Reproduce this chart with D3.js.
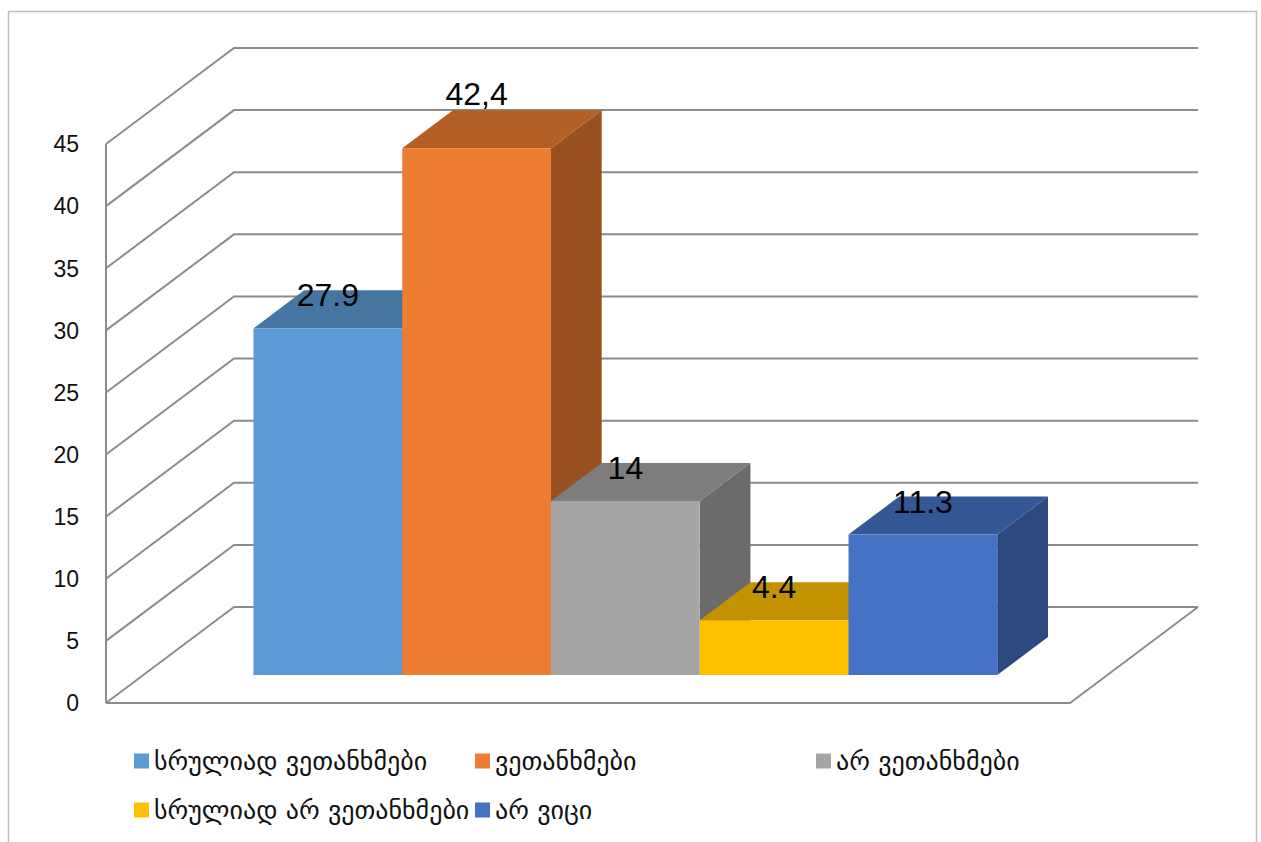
<!DOCTYPE html>
<html>
<head>
<meta charset="utf-8">
<script src="https://cdn.jsdelivr.net/npm/d3@7"></script>
<style>
  body { margin: 0; background: #fff; }
  svg { display: block; }
</style>
</head>
<body>
<div id="chart"></div>
<script>
// series shown as one cluster of 3D columns
const seriesNames = [
  "სრულიად ვეთანხმები",
  "ვეთანხმები",
  "არ ვეთანხმები",
  "სრულიად არ ვეთანხმები",
  "არ ვიცი"
];
const seriesValues = [27.9, 42.4, 14, 4.4, 11.3];
const valueLabels = ["27.9", "42,4", "14", "4.4", "11.3"];
const yTicks = [0, 5, 10, 15, 20, 25, 30, 35, 40, 45];
const seriesColors = ["#5B9BD5", "#ED7D31", "#A5A5A5", "#FFC000", "#4472C4"];

const W = 1261, H = 842;
const svg = d3.select("#chart").append("svg")
  .attr("width", W).attr("height", H);

// outer chart frame
svg.append("rect")
  .attr("x", 8.5).attr("y", 11.5)
  .attr("width", 1248).attr("height", 860)
  .attr("fill", "none").attr("stroke", "#bfbfbf").attr("stroke-width", 1.5);

// 3D box: front plane + depth offset
const x0 = 106, x1 = 1070;
const depthX = 128, depthY = 96;

const y = d3.scaleLinear().domain([0, 45]).range([703, 144]);
const x = d3.scaleBand()
  .domain(seriesNames)
  .range([x0, x1])
  .paddingInner(0)
  .paddingOuter(0.74);

const P = (px, v, d) => [px + d * depthX, y(v) - d * depthY];
const line = d3.line();

const grid = svg.append("g")
  .attr("fill", "none")
  .attr("stroke", "#8c8c8c")
  .attr("stroke-width", 2);

// side wall diagonals + back wall gridlines
yTicks.forEach(v => {
  grid.append("path")
    .attr("d", line([P(x0, v, 0), P(x0, v, 1), P(x1, v, 1)]));
});
// floor
grid.append("path")
  .attr("d", line([P(x0, 0, 0), P(x1, 0, 0), P(x1, 0, 1)]));
// front vertical axis
grid.append("path")
  .attr("d", line([P(x0, 0, 0), P(x0, 45, 0)]));

// y tick labels
svg.append("g")
  .selectAll("text")
  .data(yTicks)
  .join("text")
  .attr("x", 79)
  .attr("y", d => y(d))
  .attr("dy", "0.36em")
  .attr("text-anchor", "end")
  .attr("font-family", "Liberation Sans, Arial, sans-serif")
  .attr("font-size", 23)
  .attr("fill", "#111")
  .text(d => d);

// columns
const d0 = 0.292, d1 = 0.688;
const bars = svg.append("g");
seriesNames.forEach((name, i) => {
  const v = seriesValues[i];
  const c = d3.rgb(seriesColors[i]);
  const top = d3.rgb(c.r * 0.76, c.g * 0.76, c.b * 0.76);
  const side = d3.rgb(c.r * 0.65, c.g * 0.65, c.b * 0.65);
  const xl = x(name), xr = x(name) + x.bandwidth();
  const g = bars.append("g");
  // right side
  g.append("path")
    .attr("d", line([P(xr, 0, d0), P(xr, 0, d1), P(xr, v, d1), P(xr, v, d0)]) + "Z")
    .attr("fill", side);
  // top
  g.append("path")
    .attr("d", line([P(xl, v, d0), P(xl, v, d1), P(xr, v, d1), P(xr, v, d0)]) + "Z")
    .attr("fill", top);
  // front
  g.append("path")
    .attr("d", line([P(xl, 0, d0), P(xl, v, d0), P(xr, v, d0), P(xr, 0, d0)]) + "Z")
    .attr("fill", c);
});

// value labels
const vmax = d3.max(seriesValues);
svg.append("g")
  .selectAll("text")
  .data(seriesNames)
  .join("text")
  .attr("x", d => x(d) + x.bandwidth() / 2 + d0 * depthX)
  .attr("y", (d, i) => P(0, seriesValues[i], d1)[1] + (seriesValues[i] === vmax ? -5 : 16))
  .attr("text-anchor", "middle")
  .attr("font-family", "Liberation Sans, Arial, sans-serif")
  .attr("font-size", 32)
  .attr("fill", "#000")
  .text((d, i) => valueLabels[i]);

// legend
const legendCols = [134, 475, 816];
const legendRows = [761, 810];
const legend = svg.append("g");
seriesNames.forEach((name, i) => {
  const col = i % 3, row = Math.floor(i / 3);
  const lx = legendCols[col], ly = legendRows[row];
  legend.append("rect")
    .attr("x", lx).attr("y", ly - 7.5)
    .attr("width", 15).attr("height", 15)
    .attr("fill", seriesColors[i]);
  legend.append("text")
    .attr("x", lx + 20)
    .attr("y", ly)
    .attr("dy", "0.33em")
    .attr("font-family", "DejaVu Sans, Noto Sans, sans-serif")
    .attr("font-size", 26)
    .attr("fill", "#111")
    .text(name);
});
</script>
</body>
</html>
